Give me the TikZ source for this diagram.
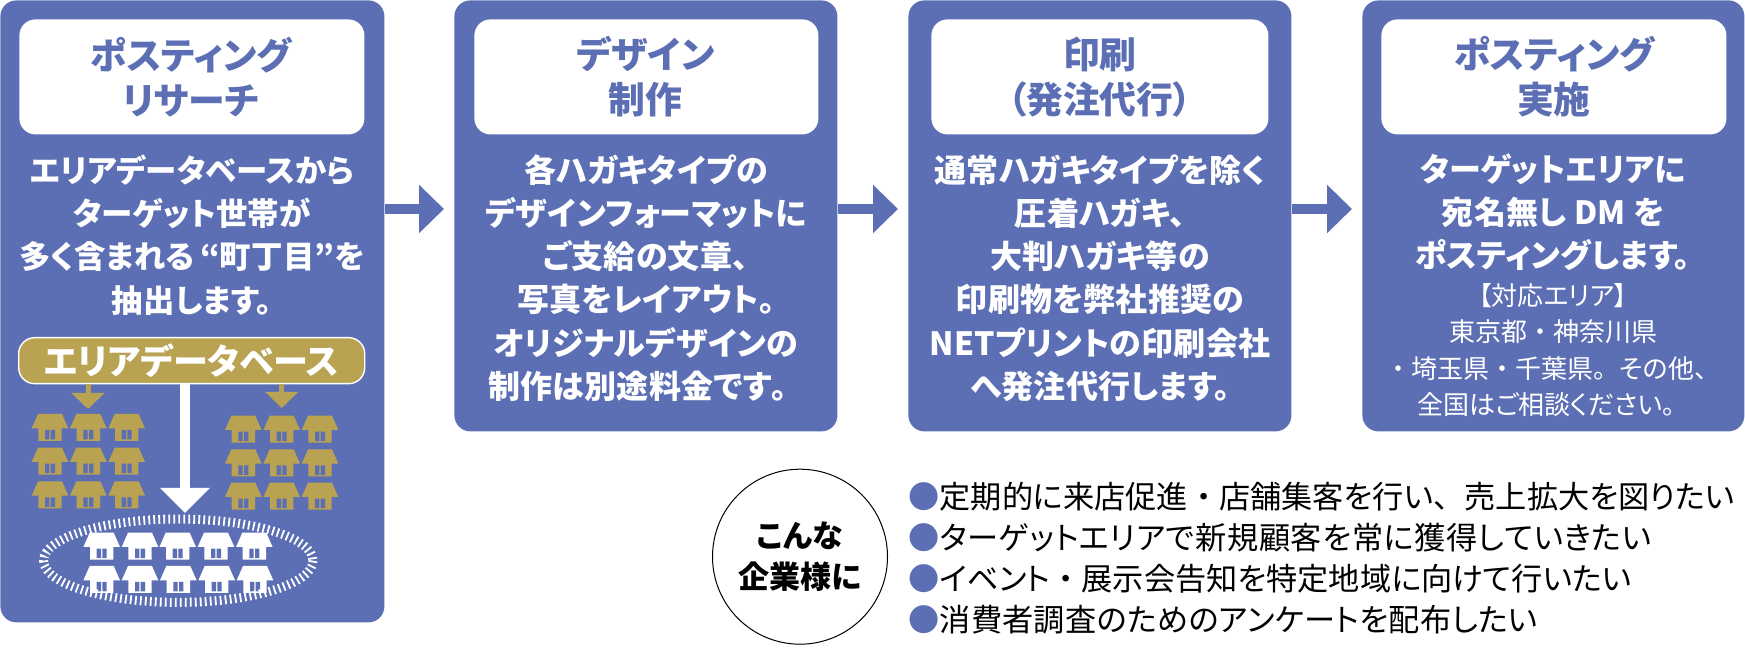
\documentclass[tikz,border=0pt]{standalone}
\usepackage{fontspec}
\setmainfont[RawFeature=+palt]{Noto Sans CJK JP}
\newfontfamily\fw{Noto Sans CJK JP}
\newcommand{\fwc}[1]{{\fw #1}}
\usetikzlibrary{arrows.meta}
\definecolor{bl}{HTML}{5C6FB4}
\definecolor{gold}{HTML}{B9A352}
\tikzset{
  x=0.5pt,y=-0.5pt,
  panel/.style={fill=bl,rounded corners=8pt,anchor=north west,inner sep=0pt},
  headbox/.style={fill=white,rounded corners=8pt,anchor=north west,inner sep=0pt,minimum height=57.5pt},
  headtext/.style={text=bl,font=\fontsize{18.4}{22.5}\selectfont\bfseries,align=center,inner sep=0pt},
  bodytext/.style={text=white,font=\fontsize{16}{21.6}\selectfont\bfseries\addfontfeature{LetterSpace=0.8},align=center,inner sep=0pt},
  bodytextb/.style={text=white,font=\fontsize{15.7}{21.6}\selectfont\bfseries\addfontfeature{LetterSpace=0.4},align=center,inner sep=0pt},
  smalltext/.style={text=white,font=\fontsize{13}{18.2}\selectfont,align=center,inner sep=0pt},
  flow/.style={draw=bl,line width=5pt,-{Triangle[length=12.5pt,width=23.5pt]}},
  goldarrow/.style={draw=gold,line width=2.5pt,-{Triangle[length=8pt,width=16pt]}},
  whitearrow/.style={draw=white,line width=5pt,-{Triangle[length=12.5pt,width=24pt]}},
  pics/house/.style={code={
    \fill[#1] (-12,0) -- (12,0) -- (18.3,14.3) -- (11.7,14.3) -- (11.7,27) -- (-11.7,27) -- (-11.7,14.3) -- (-18.3,14.3) -- cycle;
    \fill[bl] (-5,16) rectangle (-0.7,25.5) (0.7,16) rectangle (5,25.5);
  }}
}
\begin{document}
\begin{tikzpicture}
\useasboundingbox (0,0) rectangle (1745,651);
% panels
\node[panel,minimum width=192pt,minimum height=311pt] (p1) at (0,0) {};
\node[panel,minimum width=191.5pt,minimum height=215.5pt] (p2) at (454,0) {};
\node[panel,minimum width=191.5pt,minimum height=215.5pt] (p3) at (908,0) {};
\node[panel,minimum width=191pt,minimum height=215.5pt] (p4) at (1362,0) {};
% headers
\node[headbox,minimum width=172.5pt] (h1) at (19,19) {};
\node[headbox,minimum width=172pt] (h2) at (474,19) {};
\node[headbox,minimum width=168.5pt] (h3) at (931,19) {};
\node[headbox,minimum width=172.5pt] (h4) at (1381,19) {};
\node[headtext,xshift=-0.5pt] (t1) at (h1) {ポスティング\\リサーチ};
\node[headtext,xshift=-0.5pt] (t2) at (h2) {デザイン\\制作};
\node[headtext] (t3) at (h3) {印刷\\（発注代行）};
\node[headtext] (t4) at (h4) {ポスティング\\実施};
% bodies
\node[bodytextb] (b1) at (192,235) {エリアデータベースから\\ターゲット世帯が\\多く含まれる\,“町丁目”を\\抽出します。};
\node[bodytext] (b2) at (646,278) {各ハガキタイプの\\デザインフォーマットに\\ご支給の文章、\\写真をレイアウト。\\オリジナルデザインの\\制作は別途料金です\fwc{。}};
\node[bodytext] (b3) at (1100,278) {通常ハガキタイプを除く\\圧着ハガキ、\\大判ハガキ等の\\印刷物を弊社推奨の\\NETプリントの印刷会社\\へ発注代行します。};
\node[bodytext] (b4) at (1553,212) {ターゲットエリアに\\宛名無し DM を\\ポスティングします。};
\node[smalltext] (s4) at (1553,350) {【対応エリア】\\東京都\fwc{・}神奈川県\\\fwc{・}埼玉県\fwc{・}千葉県\fwc{。}その他\fwc{、}\\全国はご相談ください\fwc{。}};
% flow arrows
\coordinate (a1) at (444,209);
\coordinate (a2) at (898,209);
\coordinate (a3) at (1352,209);
\draw[flow] (p1.east |- a1) -- (a1);
\draw[flow] (p2.east |- a2) -- (a2);
\draw[flow] (p3.east |- a3) -- (a3);
% database
\node[fill=gold,draw=white,line width=0.7pt,rounded corners=8pt,anchor=north west,minimum width=173pt,minimum height=23pt,inner sep=0pt,text=white,font=\fontsize{17.5}{20}\selectfont\bfseries] (db) at (18,337) {エリアデータベース};
\coordinate (g1) at (88,409);
\coordinate (g2) at (281.7,408);
\coordinate (w1) at (185,513);
\draw[goldarrow] (db.south -| g1) -- (g1);
\draw[goldarrow] (db.south -| g2) -- (g2);
\draw[whitearrow] (db.south -| w1) -- (w1);
% houses
\foreach \px in {50,88.3,126.7}\foreach \py in {414,447.7,481.3}{\pic at (\px,\py) {house=gold};}
\foreach \px in {243.3,281.7,320}\foreach \py in {415.7,449.3,482.7}{\pic at (\px,\py) {house=gold};}
\foreach \px in {101.7,140,177.7,216,254.3}{\pic at (\px,532.7) {house=white};}
\foreach \px in {101.7,140,178.3,216.7,255}{\pic at (\px,566) {house=white};}
\draw[white,line width=4.5pt,dash pattern=on 0.9pt off 1.6pt] (178.3,560.7) ellipse [x radius=134.7,y radius=41.7];
% lower right
\node[circle,draw=black,line width=0.5pt,minimum size=87.5pt,inner sep=0pt,font=\fontsize{15.5}{20.5}\selectfont\bfseries,align=center] (c) at (800,556.7) {こんな\\企業様に};
\node[anchor=west,inner sep=0pt,align=left,font=\fontsize{15.6}{20.5}\selectfont] (lst) at (908,558) {\textcolor{bl}{●}定期的に来店促進\fwc{・}店舗集客を行い\fwc{、}売上拡大を図りたい\\{\addfontfeature{LetterSpace=2}\textcolor{bl}{●}ターゲットエリアで新規顧客を常に獲得していきたい}\\\textcolor{bl}{●}イベント\fwc{・}展示会告知を特定地域に向けて行いたい\\{\addfontfeature{LetterSpace=0.8}\textcolor{bl}{●}消費者調査のためのアンケートを配布したい}};
\end{tikzpicture}
\end{document}
